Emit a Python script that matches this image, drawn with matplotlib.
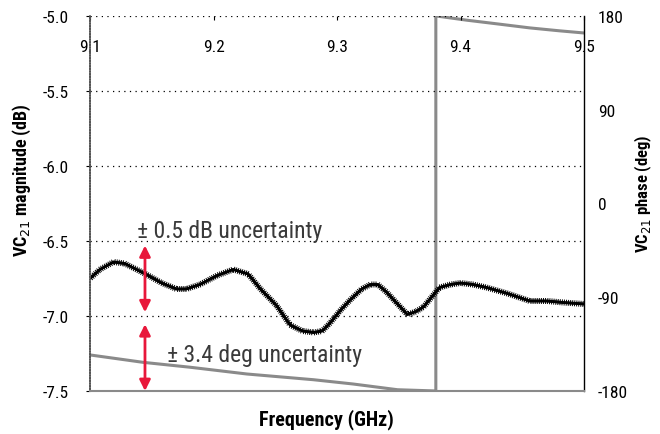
import matplotlib
matplotlib.use("Agg")
import matplotlib.pyplot as plt
import matplotlib.patheffects as pe
from matplotlib import font_manager

# узкий шрифт, если есть
names = set(f.name for f in font_manager.fontManager.ttflist)
narrow = 'DejaVu Sans'
for cand in ['Liberation Sans Narrow', 'DejaVu Sans Condensed', 'Roboto Condensed', 'Open Sans Condensed', 'Roboto', 'Liberation Sans']:
    if cand in names:
        narrow = cand
        break
plt.rcParams['font.family'] = [narrow, 'DejaVu Sans']

# magnitude trace (GHz, dB)
freq_mag = [9.100, 9.108, 9.119, 9.128, 9.145, 9.158, 9.170, 9.178, 9.189, 9.203,
            9.216, 9.228, 9.238, 9.251, 9.262, 9.272, 9.281, 9.288, 9.294, 9.303,
            9.311, 9.320, 9.327, 9.333, 9.340, 9.349, 9.357, 9.364, 9.370, 9.379,
            9.383, 9.392, 9.400, 9.410, 9.421, 9.438, 9.456, 9.470, 9.483, 9.500]
mag_db = [-6.75, -6.69, -6.64, -6.65, -6.72, -6.78, -6.82, -6.82, -6.79, -6.73,
          -6.69, -6.72, -6.82, -6.93, -7.06, -7.10, -7.11, -7.10, -7.05, -6.96,
          -6.89, -6.82, -6.79, -6.79, -6.84, -6.92, -6.99, -6.97, -6.94, -6.85,
          -6.81, -6.79, -6.78, -6.79, -6.81, -6.85, -6.90, -6.90, -6.91, -6.92]

# phase trace (GHz, deg), wraps at 9.38 GHz
freq_ph = [9.100, 9.143, 9.181, 9.227, 9.281, 9.313, 9.349, 9.380, 9.380, 9.383,
           9.405, 9.430, 9.456, 9.480, 9.500]
phase_deg = [-145.4, -152.5, -157.2, -163.7, -169.2, -173.3, -178.8, -180.0, 180.0, 179.6,
             176.0, 172.4, 168.6, 165.8, 163.7]

x_ticks = [9.1, 9.2, 9.3, 9.4, 9.5]
mag_ticks = [-5.0, -5.5, -6.0, -6.5, -7.0, -7.5]
ph_ticks = [180, 90, 0, -90, -180]

# uncertainty arrows: x, (y0, y1) in dB
arrow_x = 9.1445
arrow_mag = (-6.53, -6.975)
arrow_ph = (-7.055, -7.5)

fig = plt.figure(figsize=(6.6, 4.35), dpi=100)
ax = fig.add_axes([0.1364, 0.0989, 0.7485, 0.862])
ax2 = ax.twinx()
ax.set_zorder(ax2.get_zorder() + 1)
ax.patch.set_visible(False)

# phase (grey)
ax2.plot(freq_ph, phase_deg, color='#8a8a8a', lw=2.2)
ax2.set_ylim(-180, 180)
ax2.set_yticks(ph_ticks)
ax2.set_yticklabels([str(t) for t in ph_ticks])
ax2.tick_params(axis='y', length=0, pad=10, labelsize=12.5)
ax2.set_yticks([0], minor=True)
ax2.tick_params(axis='y', which='minor', direction='inout', length=12, width=0.8)
for s in ['top', 'left', 'bottom']:
    ax2.spines[s].set_visible(False)
ax2.spines['right'].set_color('black')
ax2.spines['right'].set_linewidth(1.0)
ax2.set_ylabel('VC$_{21}$ phase (deg)', fontsize=12, fontweight='bold')
ax2.yaxis.set_label_coords(1.099, 0.528)

# magnitude (black, fuzzy)
ax.plot(freq_mag, mag_db, color='black', lw=1.9,
        path_effects=[pe.withTickedStroke(angle=90, spacing=1.5, length=1.2, linewidth=0.7),
                      pe.withTickedStroke(angle=-90, spacing=1.5, length=1.2, linewidth=0.7)])

ax.set_xlim(9.1, 9.5)
ax.set_ylim(-7.5, -5.0)
ax.set_yticks(mag_ticks)
ax.set_yticklabels(['%.1f' % t for t in mag_ticks])
ax.tick_params(axis='y', direction='out', length=3, width=0.8, pad=12, labelsize=12.5)
ax.set_xticks(x_ticks)
ax.set_xticklabels([str(t) for t in x_ticks])
ax.xaxis.tick_top()
ax.tick_params(axis='x', direction='in', length=3, pad=-27, labelsize=12.5)

for y in mag_ticks[:-1]:
    ax.axhline(y, color='black', lw=0.9, ls=(0, (1, 3.5)), zorder=0.5)

ax.spines['top'].set_visible(False)
ax.spines['right'].set_visible(False)
ax.spines['left'].set_color('#555555')
ax.spines['left'].set_linestyle((0, (1, 0.6)))
ax.spines['left'].set_linewidth(1.2)
ax.spines['bottom'].set_color('#8a8a8a')
ax.spines['bottom'].set_linewidth(1.5)

ax.set_ylabel('VC$_{21}$ magnitude (dB)', fontsize=13, fontweight='bold')
ax.yaxis.set_label_coords(-0.115, 0.565)
fig.text(0.494, 0.035, 'Frequency (GHz)', fontsize=14.5, fontweight='bold', ha='center', va='center')

red = '#e8173a'
for y0, y1 in [arrow_mag, arrow_ph]:
    ax.annotate('', xy=(arrow_x, y0), xytext=(arrow_x, y1),
                arrowprops=dict(arrowstyle='<|-|>', color=red, lw=2,
                                mutation_scale=16, shrinkA=0, shrinkB=0))

ax.text(9.138, -6.43, '± 0.5 dB uncertainty', fontsize=17, color='#3a3a3a', va='center', ha='left')
ax.text(9.162, -7.26, '± 3.4 deg uncertainty', fontsize=17, color='#3a3a3a', va='center', ha='left')

plt.savefig('out.png', dpi=100)
